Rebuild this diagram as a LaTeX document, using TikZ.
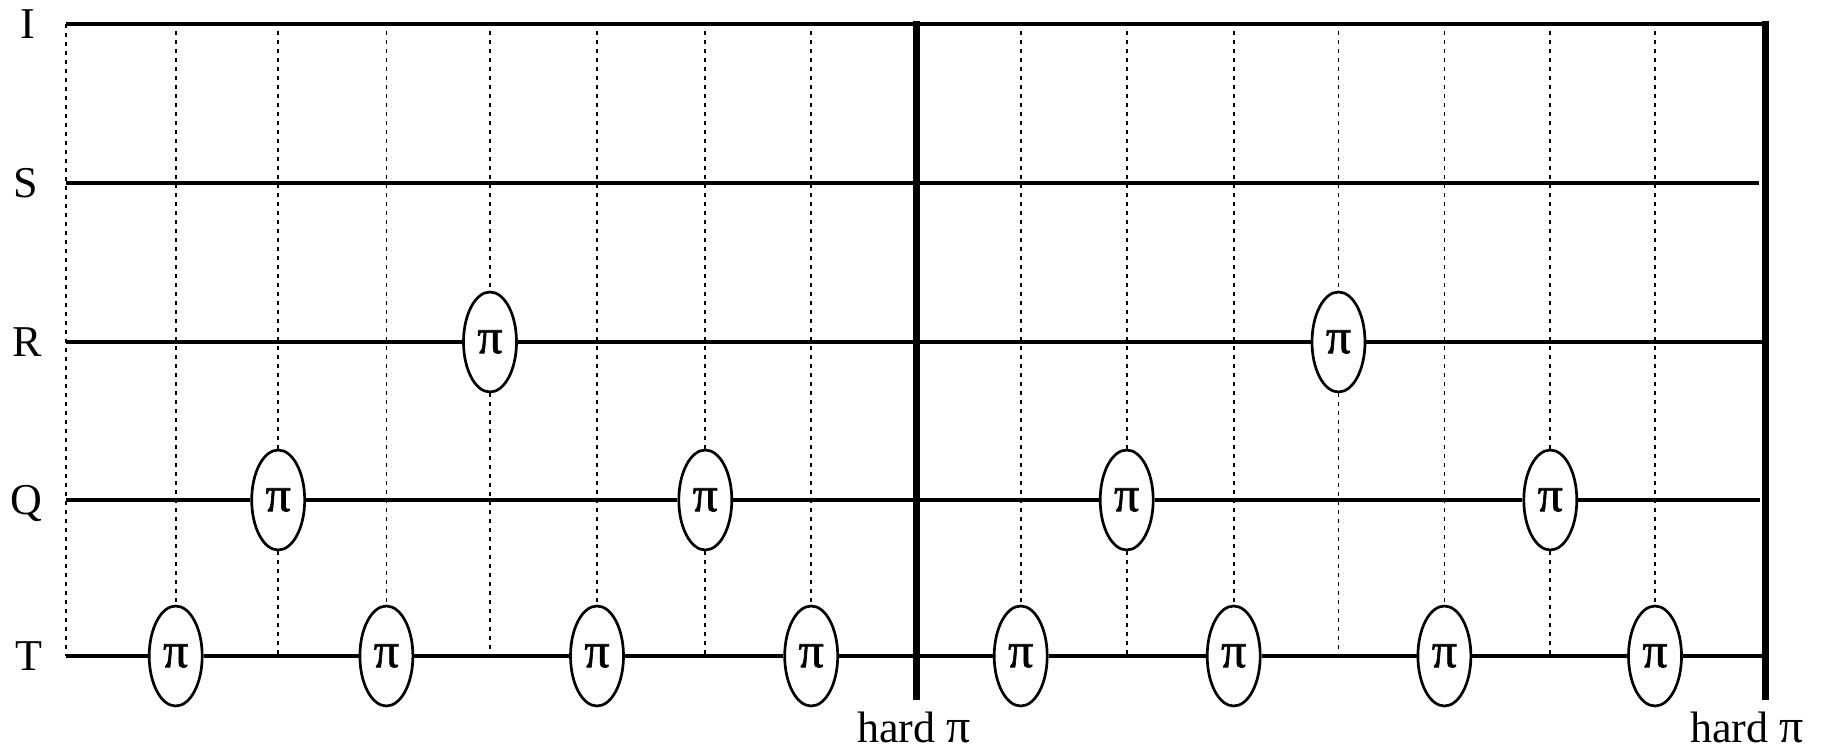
\documentclass[tikz,border=0pt]{standalone}
\usepackage{fontspec}
\setmainfont{Liberation Serif}
\newfontfamily\pifont[FakeBold=1.2]{Liberation Serif}
\usetikzlibrary{shapes.geometric}
\tikzset{
  wire/.style={line width=3.3pt},
  hardbar/.style={line width=7pt},
  guide/.style={line width=1.7pt, dash pattern=on 4pt off 5pt},
  gate/.style={ellipse, draw, line width=2.7pt, fill=white, minimum width=53pt,
    minimum height=100pt, inner sep=0pt, font=\pifont\fontsize{50}{56}\selectfont},
  lab/.style={font=\fontsize{44}{50}\selectfont, inner sep=0pt, anchor=base}
}
\begin{document}
\begin{tikzpicture}[x=1pt,y=-1pt]
\useasboundingbox (0,0) rectangle (1825,752);
% column positions
\def\cA{66}\def\cB{175.7}\def\cC{278.2}\def\cD{386.4}\def\cE{490}\def\cF{597}
\def\cG{705.3}\def\cH{811.2}\def\cM{916}\def\cJ{1020.7}\def\cK{1126.7}
\def\cL{1233.7}\def\cN{1338.5}\def\cO{1444.4}\def\cP{1550.3}\def\cR{1655}\def\cZ{1765}
% row labels
\node[lab] (lI) at (28,38) {I};
\node[lab] (lS) at (26,197) {S};
\node[lab] (lR) at (27,356) {R};
\node[lab] (lQ) at (26,514) {Q};
\node[lab] (lT) at (29,670) {T};
% row end coordinates
\coordinate (I0) at (\cA,24);   \coordinate (Ie) at (\cZ,24);
\coordinate (S0) at (\cA,183);  \coordinate (Se) at (1759,183);
\coordinate (R0) at (\cA,342);  \coordinate (Re) at (1762,342);
\coordinate (Q0) at (\cA,500);  \coordinate (Qe) at (1760,500);
\coordinate (T0) at (\cA,656);  \coordinate (Te) at (\cZ,656);
% gates on T
\node[gate] (t1) at (\cB,656) {π};
\node[gate] (t3) at (\cD,656) {π};
\node[gate] (t5) at (\cF,656) {π};
\node[gate] (t7) at (\cH,656) {π};
\node[gate] (t9) at (\cJ,656) {π};
\node[gate] (t11) at (\cL,656) {π};
\node[gate] (t13) at (\cO,656) {π};
\node[gate] (t15) at (\cR,656) {π};
% gates on Q
\node[gate] (q2) at (\cC,500) {π};
\node[gate] (q6) at (\cG,500) {π};
\node[gate] (q10) at (\cK,500) {π};
\node[gate] (q14) at (\cP,500) {π};
% gates on R
\node[gate] (r4) at (\cE,342) {π};
\node[gate] (r12) at (\cN,342) {π};
% guide coordinates
\coordinate (g1) at (\cB,22);  \coordinate (g2) at (\cC,22);
\coordinate (g3) at (\cD,22);  \coordinate (g4) at (\cE,22);
\coordinate (g5) at (\cF,22);  \coordinate (g6) at (\cG,22);
\coordinate (g7) at (\cH,22);  \coordinate (g9) at (\cJ,22);
\coordinate (g10) at (\cK,22); \coordinate (g11) at (\cL,22);
\coordinate (g12) at (\cN,22); \coordinate (g13) at (\cO,22);
\coordinate (g14) at (\cP,22); \coordinate (g15) at (\cR,22);
\coordinate (b2) at (\cC,656);  \coordinate (b4) at (\cE,656);
\coordinate (b6) at (\cG,656);  \coordinate (b10) at (\cK,656);
\coordinate (b12) at (\cN,656); \coordinate (b14) at (\cP,656);
% dotted guides
\draw[guide] (I0) -- (T0);
\foreach \i in {1,3,5,7,9,11,13,15} {\draw[guide] (g\i) -- (t\i);}
\foreach \i in {2,6,10,14} {\draw[guide] (g\i) -- (q\i); \draw[guide] (q\i) -- (b\i);}
\foreach \i in {4,12} {\draw[guide] (g\i) -- (r\i); \draw[guide] (r\i) -- (b\i);}
% wires
\draw[wire] (I0) -- (Ie);
\draw[wire] (S0) -- (Se);
\draw[wire] (R0) -- (r4) -- (r12) -- (Re);
\draw[wire] (Q0) -- (q2) -- (q6) -- (q10) -- (q14) -- (Qe);
\draw[wire] (T0) -- (t1) -- (t3) -- (t5) -- (t7) -- (t9) -- (t11) -- (t13) -- (t15) -- (Te);
% hard bars
\coordinate (h1t) at (\cM,21); \coordinate (h1b) at (\cM,700);
\coordinate (h2t) at (\cZ,21); \coordinate (h2b) at (\cZ,700);
\draw[hardbar] (h1t) -- (h1b);
\draw[hardbar] (h2t) -- (h2b);
\node[lab] (hard1) at (914,742) {hard {\fontsize{48}{50}\selectfont π}};
\node[lab] (hard2) at (1747,742) {hard {\fontsize{48}{50}\selectfont π}};
\end{tikzpicture}
\end{document}
